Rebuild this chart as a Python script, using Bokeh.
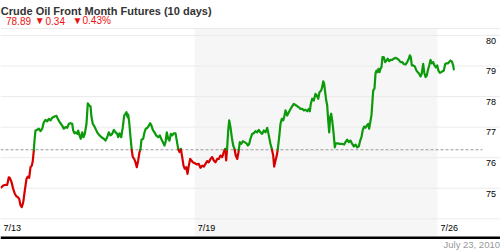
from bokeh.plotting import figure
from bokeh.models import Range1d, BoxAnnotation
from bokeh.core.properties import value
from bokeh.embed import file_html
from bokeh.resources import INLINE

# ---------------- data ----------------
title_text = "Crude Oil Front Month Futures (10 days)"
date_text = "July 23, 2010"
last_price = 78.89
change = -0.34
pct_change = -0.43
reference_price = 76.26

x_tick_days = [0, 4, 9]
x_tick_labels = ["7/13", "7/19", "7/26"]
y_grid_values = [74, 75, 76, 77, 78, 79, 80]
y_tick_values = [75, 76, 77, 78, 79, 80]
shaded_week = (4, 9)

days = [
    0.021, 0.056, 0.103, 0.138, 0.171, 0.192, 0.227, 0.262, 0.295, 0.330,
    0.356, 0.385, 0.412, 0.439, 0.468, 0.501, 0.536, 0.562, 0.591, 0.618,
    0.645, 0.665, 0.686, 0.700, 0.721, 0.756, 0.789, 0.824, 0.859, 0.892,
    0.927, 0.962, 0.995, 1.030, 1.065, 1.112, 1.153, 1.180, 1.221, 1.271,
    1.304, 1.339, 1.374, 1.407, 1.442, 1.477, 1.497, 1.524, 1.551, 1.580,
    1.600, 1.627, 1.654, 1.683, 1.710, 1.736, 1.771, 1.798, 1.827, 1.854,
    1.874, 1.901, 1.942,
    1.992, 2.039, 2.080, 2.128, 2.163, 2.198, 2.231, 2.266, 2.301, 2.334,
    2.369, 2.404, 2.424, 2.451, 2.486, 2.519, 2.548, 2.575, 2.595, 2.616,
    2.630, 2.651, 2.678, 2.704, 2.725, 2.754, 2.781, 2.807, 2.836, 2.863,
    2.884, 2.904, 2.939, 2.966, 2.993, 3.028, 3.055, 3.083, 3.110, 3.137,
    3.172, 3.207, 3.248, 3.281, 3.310, 3.343, 3.378, 3.399, 3.425, 3.454,
    3.481, 3.508, 3.537, 3.570, 3.604, 3.631, 3.660, 3.687, 3.714, 3.743,
    3.769, 3.796, 3.825, 3.852, 3.878, 3.907, 3.934, 3.961, 4.002,
    4.051, 4.084, 4.119, 4.154, 4.187, 4.222, 4.257, 4.290, 4.325, 4.360,
    4.393, 4.428, 4.463, 4.496, 4.531, 4.566, 4.599, 4.628, 4.649, 4.669,
    4.690, 4.711, 4.737, 4.764, 4.793, 4.820, 4.846, 4.875, 4.902, 4.929,
    4.958, 4.991, 5.026, 5.067, 5.094, 5.122, 5.149, 5.184, 5.217, 5.252,
    5.287, 5.320, 5.355, 5.390, 5.423, 5.458, 5.493, 5.526, 5.561, 5.588,
    5.617, 5.637, 5.664, 5.691, 5.712, 5.740, 5.767, 5.794, 5.823, 5.850,
    5.870, 5.905, 5.938, 5.994, 6.041, 6.091, 6.144, 6.179, 6.214, 6.247,
    6.282, 6.317, 6.350, 6.371, 6.391, 6.420, 6.453, 6.488, 6.515, 6.544,
    6.570, 6.605, 6.626, 6.647, 6.667, 6.688, 6.709, 6.729, 6.750, 6.770,
    6.791, 6.811, 6.832, 6.859, 6.886, 6.906, 6.947, 6.989, 7.038, 7.079,
    7.106, 7.141, 7.174, 7.209, 7.244, 7.277, 7.312, 7.347, 7.380, 7.409,
    7.435, 7.462, 7.491, 7.518, 7.545, 7.573, 7.594,
    7.642, 7.662, 7.677, 7.703, 7.724, 7.744, 7.765, 7.786, 7.806, 7.827,
    7.847, 7.868, 7.895, 7.924, 7.950, 7.977, 8.006, 8.033, 8.068, 8.101,
    8.136, 8.171, 8.204, 8.239, 8.274, 8.307, 8.342, 8.377, 8.410, 8.431,
    8.451, 8.472, 8.500, 8.533, 8.568, 8.595, 8.624, 8.651, 8.677, 8.706,
    8.727, 8.754, 8.781, 8.801, 8.830, 8.857, 8.883, 8.912, 8.939, 8.966,
    8.995, 9.021, 9.048, 9.077, 9.104, 9.131, 9.160, 9.186, 9.213, 9.242,
    9.268, 9.295, 9.324, 9.337,
]

prices = [
    75.03, 75.09, 75.11, 75.11, 75.36, 75.34, 75.20, 74.98, 74.82, 74.73,
    74.71, 74.65, 74.44, 74.38, 74.54, 74.93, 75.31, 75.38, 75.34, 75.69,
    75.74, 75.89, 76.24, 76.56, 76.89, 76.91, 76.95, 76.87, 76.95, 77.16,
    77.24, 77.19, 77.27, 77.22, 77.31, 77.35, 77.37, 77.27, 77.16, 77.05,
    76.95, 77.00, 76.98, 77.11, 77.13, 77.11, 76.89, 76.80, 76.83, 76.78,
    76.89, 76.73, 76.62, 76.83, 76.67, 76.78, 77.11, 77.78, 77.71, 77.68,
    77.33, 77.11, 77.00,
    76.83, 76.73, 76.67, 76.62, 76.56, 76.67, 76.83, 76.73, 76.78, 76.91,
    76.83, 76.78, 76.67, 76.80, 76.67, 77.00, 77.38, 77.44, 77.49, 77.33,
    77.41, 77.16, 76.67, 76.24, 76.02, 75.96, 75.85, 75.69, 75.91, 76.18,
    76.29, 76.59, 76.62, 76.83, 76.95, 76.98, 77.05, 77.13, 77.05, 76.91,
    76.83, 76.73, 76.67, 76.73, 76.62, 76.51, 76.40, 76.51, 76.83, 76.62,
    76.56, 76.78, 76.73, 76.80, 76.80, 76.56, 76.29, 76.18, 76.29, 76.02,
    75.74, 75.64, 75.69, 75.47, 75.74, 75.96, 75.91, 75.85, 75.82,
    75.78, 75.80, 75.67, 75.74, 75.71, 75.80, 75.89, 75.85, 75.96, 76.02,
    75.91, 75.85, 75.96, 75.96, 76.07, 76.02, 76.18, 76.29, 75.91, 76.34,
    76.89, 77.22, 77.00, 76.67, 76.40, 76.29, 76.07, 75.96, 76.18, 76.51,
    76.45, 76.54, 76.51, 76.47, 76.40, 76.45, 76.62, 76.78, 76.80, 76.87,
    76.83, 76.91, 76.83, 76.78, 76.89, 76.83, 76.98, 76.73, 76.45, 76.29,
    76.07, 75.71, 75.91, 76.07, 76.29, 76.67, 77.11, 77.27, 77.22, 77.38,
    77.55, 77.38, 77.49, 77.65, 77.76, 77.71, 77.65, 77.60, 77.60, 77.55,
    77.57, 77.52, 77.60, 77.52, 77.76, 77.93, 77.87, 78.09, 78.04, 77.93,
    78.14, 78.20, 78.31, 78.50, 78.42, 78.14, 77.87, 77.71, 77.22, 76.83,
    77.33, 77.44, 77.22, 76.83, 76.34, 76.47, 76.47, 76.45, 76.45, 76.43,
    76.51, 76.59, 76.51, 76.56, 76.45, 76.37, 76.43, 76.34, 76.37, 76.56,
    76.67, 76.91, 77.02, 76.98, 77.05, 77.11, 76.95,
    77.40, 77.87, 78.20, 78.26, 78.75, 78.85, 78.80, 78.91, 78.80, 78.91,
    78.96, 79.29, 79.29, 79.13, 79.18, 79.24, 79.16, 79.20, 79.20, 79.24,
    79.27, 79.24, 79.20, 79.13, 79.13, 79.07, 79.05, 79.13, 79.24, 79.35,
    79.29, 79.02, 79.02, 78.99, 78.85, 78.80, 78.75, 78.66, 78.75, 79.07,
    78.80, 78.64, 78.69, 78.85, 79.02, 79.20, 79.09, 79.13, 79.02, 78.96,
    79.02, 78.85, 78.78, 78.80, 78.83, 78.85, 79.07, 79.09, 79.09, 79.13,
    79.18, 79.15, 79.02, 78.89,
]

# ---------------- layout helpers (pixel -> data, layout only) ----------------
PX_PER_DAY = 48.55
PX_PER_USD = 30.55
GRID80_PX = 35.0
W, H = 500, 250
TEXT_SHIFT = 3.0  # svg text renders a little low; lift all texts


def X(px):
    return px / PX_PER_DAY


def Y(py):
    return 80 - (py - GRID80_PX) / PX_PER_USD


def TY(py):
    return Y(py - TEXT_SHIFT)


FONT = value("Liberation Sans")
GREEN = "#0a9a0a"
RED = "#d60000"

p = figure(width=W, height=H, x_range=Range1d(X(0), X(W)), y_range=Range1d(Y(H), Y(0)),
           output_backend="svg", toolbar_location=None, x_axis_type=None, y_axis_type=None,
           min_border=0, min_border_left=0, min_border_right=0, min_border_top=0,
           min_border_bottom=0)
p.xgrid.visible = False
p.ygrid.visible = False
p.outline_line_color = None
p.background_fill_color = "white"
p.border_fill_color = "white"

# shaded current week
p.add_layout(BoxAnnotation(left=shaded_week[0], right=shaded_week[1], top=Y(28), bottom=Y(236),
                           fill_color="#f6f6f6", fill_alpha=1.0, line_color=None, level="underlay"))

# grid lines + top border line
grid_y = y_grid_values + [Y(28)]
p.segment(x0=[X(0)] * len(grid_y), x1=[X(W)] * len(grid_y), y0=grid_y, y1=grid_y,
          line_color="#ebebeb", line_width=1)

# reference (dashed) line
p.segment(x0=[X(0)], x1=[X(482)], y0=[reference_price], y1=[reference_price],
          line_color="#999999", line_width=1, line_dash="3 2")

# price line split above/below reference
xs, ys, cols = [], [], []
cx, cy = [days[0]], [prices[0]]
side = prices[0] >= reference_price
for i in range(1, len(days)):
    s = prices[i] >= reference_price
    if s == side:
        cx.append(days[i]); cy.append(prices[i])
    else:
        t = (reference_price - prices[i - 1]) / (prices[i] - prices[i - 1])
        xc = days[i - 1] + t * (days[i] - days[i - 1])
        cx.append(xc); cy.append(reference_price)
        xs.append(cx); ys.append(cy); cols.append(GREEN if side else RED)
        cx, cy = [xc, days[i]], [reference_price, prices[i]]
        side = s
xs.append(cx); ys.append(cy); cols.append(GREEN if side else RED)
p.multi_line(xs=xs, ys=ys, line_color=cols, line_width=2.2, line_join="round", line_cap="round")

# y tick labels (inside, right)
p.text(x=[X(495.5)] * len(y_tick_values),
       y=[v - (8.3 - TEXT_SHIFT) / PX_PER_USD for v in y_tick_values],
       text=[str(v) for v in y_tick_values], text_font=FONT, text_font_size="9px",
       text_align="right", text_baseline="alphabetic", text_color="#000000")

# x tick labels
p.text(x=[d + X(3) for d in x_tick_days], y=[TY(230.7)] * len(x_tick_days), text=x_tick_labels,
       text_font=FONT, text_font_size="9px", text_align="left", text_baseline="alphabetic",
       text_color="#000000")

# bottom black rule
p.segment(x0=[X(0)], x1=[X(W)], y0=[Y(237.2)], y1=[Y(237.2)], line_color="#000000", line_width=2.5)

# title
p.text(x=[X(0.3)], y=[TY(13.4)], text=[title_text], text_font=FONT, text_font_size="11px",
       text_font_style="bold", text_align="left", text_baseline="alphabetic", text_color="#333333")

# subtitle: price, change, percent change
sub_red = "#ee1111"
p.text(x=[X(5.5), X(45), X(82)], y=[TY(23.4)] * 3,
       text=[f"{last_price:.2f}", f"{abs(change):.2f}", f"{abs(pct_change):.2f}%"],
       text_font=FONT, text_font_size="10px", text_align="left", text_baseline="alphabetic",
       text_color=sub_red)
p.text(x=[X(34.3), X(72.0)], y=[TY(23.2)] * 2, text=["\u25bc", "\u25bc"],
       text_font=FONT, text_font_size="10px", text_align="left", text_baseline="alphabetic",
       text_color=sub_red)

# date stamp
p.text(x=[X(499.5)], y=[TY(246.6)], text=[date_text], text_font=FONT, text_font_size="9.5px",
       text_align="right", text_baseline="alphabetic", text_color="#999999")

open("out.html", "w").write(file_html(p, INLINE))
